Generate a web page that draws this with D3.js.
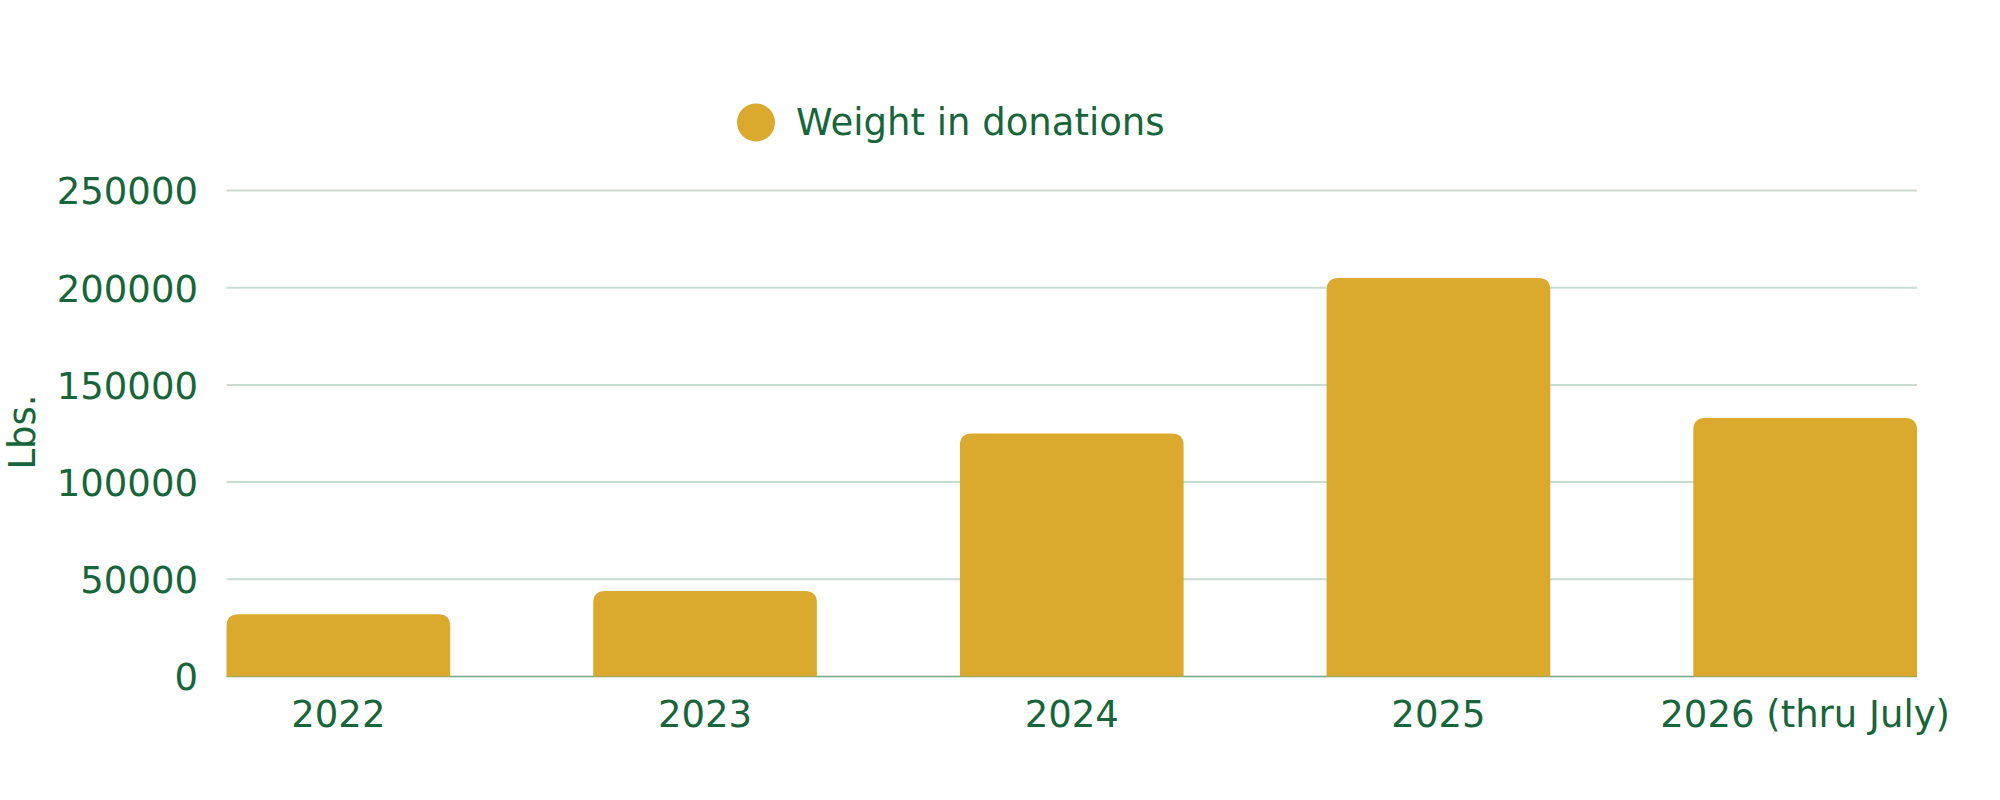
<!DOCTYPE html>
<html>
<head>
<meta charset="utf-8">
<script src="https://cdn.jsdelivr.net/npm/d3@7/dist/d3.min.js"></script>
<style>
  html, body { margin: 0; padding: 0; background: #ffffff; }
  svg { display: block; }
  text { font-family: "DejaVu Sans", "Noto Sans", sans-serif; }
</style>
</head>
<body>
<svg id="chart" width="2000" height="800"></svg>
<script>
// ---- data ----
const categories = ["2022", "2023", "2024", "2025", "2026 (thru July)"];
const weightValues = [32000, 44000, 125000, 205000, 133000];
const yTicks = [0, 50000, 100000, 150000, 200000, 250000];
const seriesName = "Weight in donations";
const yTitle = "Lbs.";

// ---- style ----
const barColor = "#DBA92D";
const textColor = "#17653A";
const gridColor = "#C9DCD2";
const axisColor = "#6FA882";
const fontSize = 37;

const svg = d3.select("#chart");
const plotLeft = 226.5, plotRight = 1917, plotTop = 190.5, plotBottom = 676.5;

const x = d3.scaleBand()
  .domain(categories)
  .range([plotLeft, plotRight])
  .paddingInner(0.39)
  .paddingOuter(0);

const y = d3.scaleLinear()
  .domain([0, 250000])
  .range([plotBottom, plotTop]);

// gridlines
svg.append("g")
  .selectAll("line")
  .data(yTicks.filter(d => d !== 0))
  .join("line")
  .attr("x1", plotLeft)
  .attr("x2", plotRight)
  .attr("y1", d => y(d))
  .attr("y2", d => y(d))
  .attr("stroke", gridColor)
  .attr("stroke-width", 2);

// baseline
svg.append("line")
  .attr("x1", plotLeft).attr("x2", plotRight)
  .attr("y1", y(0)).attr("y2", y(0))
  .attr("stroke", axisColor)
  .attr("stroke-width", 1.5);

// bars with rounded top corners
const r = 12;
function barPath(d, i) {
  const x0 = x(categories[i]);
  const w = x.bandwidth();
  const y0 = y(d);
  const yb = y(0);
  return `M${x0},${yb} L${x0},${y0 + r} Q${x0},${y0} ${x0 + r},${y0} ` +
         `L${x0 + w - r},${y0} Q${x0 + w},${y0} ${x0 + w},${y0 + r} L${x0 + w},${yb} Z`;
}
svg.append("g")
  .selectAll("path")
  .data(weightValues)
  .join("path")
  .attr("d", (d, i) => barPath(d, i))
  .attr("fill", barColor);

// y axis
const yAxis = d3.axisLeft(y)
  .tickValues(yTicks)
  .tickFormat(d3.format("d"))
  .tickSize(0)
  .tickPadding(0);
const gy = svg.append("g")
  .attr("transform", `translate(198,0)`)
  .call(yAxis);
gy.select(".domain").remove();
gy.selectAll("text")
  .attr("fill", textColor)
  .attr("font-size", fontSize)
  .attr("font-family", "DejaVu Sans, sans-serif")
  .attr("dy", "0.36em");

// x axis
const xAxis = d3.axisBottom(x).tickSize(0).tickPadding(0);
const gx = svg.append("g")
  .attr("transform", `translate(0,${plotBottom})`)
  .call(xAxis);
gx.select(".domain").remove();
gx.selectAll("text")
  .attr("fill", textColor)
  .attr("font-size", fontSize)
  .attr("font-family", "DejaVu Sans, sans-serif")
  .attr("y", 0)
  .attr("dy", 727 - plotBottom);

// y title
svg.append("text")
  .attr("transform", "translate(35,432) rotate(-90)")
  .attr("text-anchor", "middle")
  .attr("fill", textColor)
  .attr("font-size", fontSize)
  .text(yTitle);

// legend
svg.append("circle")
  .attr("cx", 756).attr("cy", 122.5).attr("r", 19)
  .attr("fill", barColor);
svg.append("text")
  .attr("x", 796).attr("y", 135)
  .attr("fill", textColor)
  .attr("font-size", fontSize)
  .text(seriesName);
</script>
</body>
</html>
